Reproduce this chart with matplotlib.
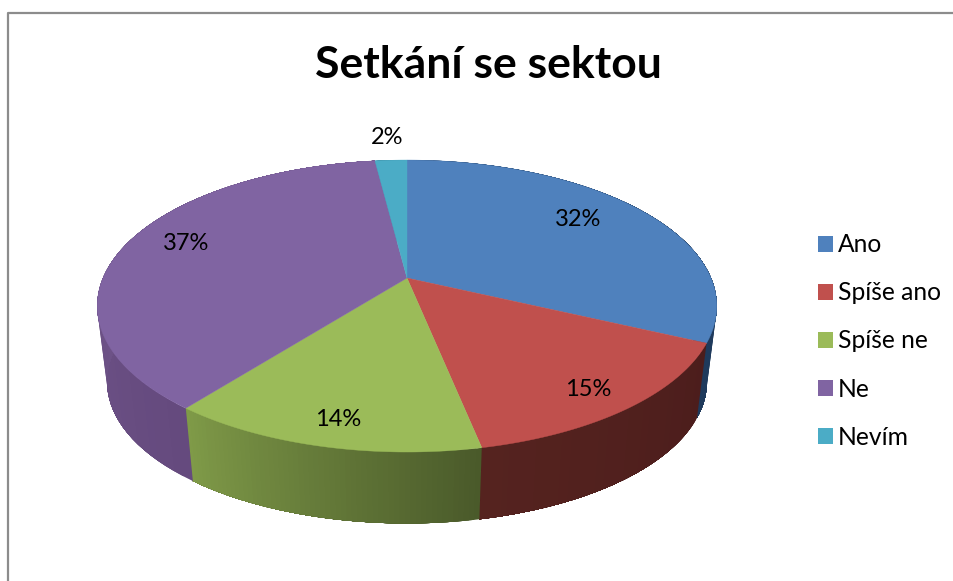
import matplotlib
matplotlib.use('Agg')
import matplotlib.pyplot as plt
from matplotlib.patches import Patch
from matplotlib.colors import to_rgb
import numpy as np

plt.rcParams['font.family'] = ['Lato', 'DejaVu Sans']

title = 'Setkání se sektou'
categories = ['Ano', 'Spíše ano', 'Spíše ne', 'Ne', 'Nevím']
values = [32.0, 14.8, 13.8, 37.4, 2.0]
colors = ['#4f81bd', '#c0504d', '#9bbb59', '#8064a2', '#4bacc6']
# colour of the side wall at the start and the end of each slice
side_start = ['#1f3a5c', '#4c1d1c', '#4a5a2a', '#654a7e', '#3a8297']
side_end = ['#1f3a5c', '#55231f', '#7f9a48', '#7a5f96', '#3a8297']
label_pos = [(578, 220), (588, 389), (338, 419), (186, 244), (387, 138)]

# perspective of the pie, in pixels of the picture
cx, cy = 407, 278
A, B, k = 304, 140.6, 0.192
low_scale, low_cy = 0.968, 355


def project(theta, scale=1.0, y0=cy):
    # theta runs clockwise from 12 o'clock
    u = np.sin(theta)
    v = np.cos(theta)
    w = 1 + k * v
    return cx + scale * A * u / w, y0 - scale * B * v / w


fig = plt.figure(figsize=(9.54, 5.81), dpi=100)
ax = fig.add_axes([0, 0, 1, 1])
ax.set_xlim(0, 954)
ax.set_ylim(581, 0)
ax.axis('off')

# frame of the chart, runs off the picture on the right and bottom
ax.plot([8.5, 8.5, 960], [590, 13, 13], color='#8c8c8c', lw=1.6)

edges = np.cumsum([0] + values) / sum(values) * 2 * np.pi

# side walls first, the top covers their hidden part
for i in range(len(values)):
    t = np.linspace(edges[i], edges[i + 1], 60)
    c0 = np.array(to_rgb(side_start[i]))
    c1 = np.array(to_rgb(side_end[i]))
    for j in range(len(t) - 1):
        # each piece runs to the end of the slice, the next one paints over it
        # so no seams show up between the pieces
        x1, y1 = project(np.linspace(t[j], t[-1], 60 - j))
        x2, y2 = project(np.linspace(t[j], t[-1], 60 - j), low_scale, low_cy)
        c = c0 + (c1 - c0) * j / (len(t) - 2)
        ax.fill(np.r_[x1, x2[::-1]], np.r_[y1, y2[::-1]], color=c, lw=0, zorder=1)

# top of the pie
for i in range(len(values)):
    t = np.linspace(edges[i], edges[i + 1], 200)
    x, y = project(t)
    ax.fill(np.r_[cx, x], np.r_[cy, y], color=colors[i], lw=0.3, zorder=2)
    ax.text(label_pos[i][0], label_pos[i][1], '%d%%' % round(values[i]), fontsize=17,
            ha='center', va='center', color='black', zorder=3)

ax.text(488, 65, title, fontsize=32, fontweight='bold', ha='center', va='center')

handles = [Patch(facecolor=c, edgecolor='none') for c in colors]
ax.legend(handles, categories, loc='center left', bbox_to_anchor=(818, 341),
          bbox_transform=ax.transData, frameon=False, fontsize=17.7,
          handlelength=0.62, handleheight=0.62, handletextpad=0.2,
          labelspacing=1.02, borderpad=0, borderaxespad=0)

plt.savefig('out.png', dpi=100)
